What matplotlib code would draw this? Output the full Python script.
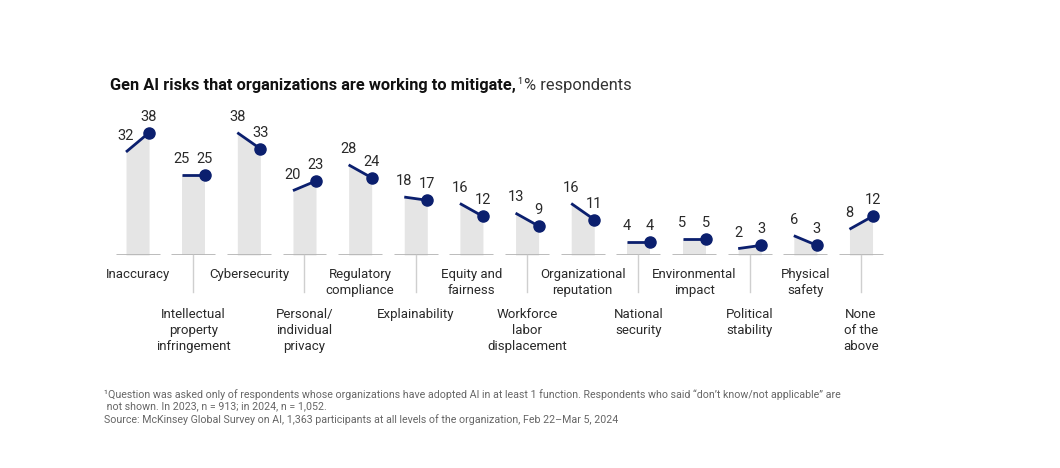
import matplotlib
matplotlib.use("Agg")
import matplotlib.pyplot as plt

# data
categories = ["Inaccuracy", "Intellectual\nproperty\ninfringement", "Cybersecurity",
              "Personal/\nindividual\nprivacy", "Regulatory\ncompliance", "Explainability",
              "Equity and\nfairness", "Workforce\nlabor\ndisplacement", "Organizational\nreputation",
              "National\nsecurity", "Environmental\nimpact", "Political\nstability",
              "Physical\nsafety", "None\nof the\nabove"]
values_2023 = [32, 25, 38, 20, 28, 18, 16, 13, 16, 4, 5, 2, 6, 8]
values_2024 = [38, 25, 33, 23, 24, 17, 12, 9, 11, 4, 5, 3, 3, 12]

NAVY = "#0b1f6e"
BAR = "#e5e5e5"
BASE = "#b5b5b5"
TICK = "#cfcfcf"
TXT = "#2a2a2a"
FONT = ["Roboto", "DejaVu Sans"]

plt.rcParams["font.family"] = FONT

W, H = 1060, 468
fig = plt.figure(figsize=(W / 100, H / 100), dpi=100)
ax = fig.add_axes([0.1035, 0.4551, 0.735, 0.2752])
ax.set_xlim(-0.5, len(categories) - 0.5)
ax.set_ylim(0, 40)
ax.axis("off")

hw = 0.207   # half bar width
bw = 0.395   # half baseline width
for i, (a, b) in enumerate(zip(values_2023, values_2024)):
    x0, x1 = i - hw, i + hw
    ax.fill_between([x0, x1], [a, b], 0, color=BAR, lw=0)
    ax.plot([i - bw, i + bw], [0, 0], color=BASE, lw=2, solid_capstyle="butt")
    ax.plot([x0, x1], [a, b], color=NAVY, lw=2, solid_capstyle="butt")
    ax.plot(x1, b, "o", color=NAVY, ms=8, mec=NAVY)
    ax.annotate(str(a), (x0, a), xytext=(0, 11.5), textcoords="offset points",
                ha="center", va="center", fontsize=10.5, color=TXT, annotation_clip=False)
    ax.annotate(str(b), (x1, b), xytext=(0, 11.5), textcoords="offset points",
                ha="center", va="center", fontsize=10.5, color=TXT, annotation_clip=False)
    if i % 2 == 0:
        ax.text(i, -4.0, categories[i], ha="center", va="top", fontsize=9.5,
                color=TXT, linespacing=1.28, clip_on=False)
    else:
        ax.plot([i, i], [0, -11.5], color=TICK, lw=1, clip_on=False)
        ax.text(i, -16.6, categories[i], ha="center", va="top", fontsize=9.5,
                color=TXT, linespacing=1.28, clip_on=False)

# title: bold part, superscript, regular part
base_y = 1 - 90 / H
t1 = fig.text(110 / W, base_y, "Gen AI risks that organizations are working to mitigate,",
              fontsize=11.8, fontweight="bold", color="#111111", va="baseline", ha="left")
fig.canvas.draw()
r = fig.canvas.get_renderer()
x_end = t1.get_window_extent(r).x1 / W
t2 = fig.text(x_end + 1 / W, base_y + 6 / H, "1", fontsize=6.5, color="#111111",
              va="baseline", ha="left")
fig.canvas.draw()
x_end = t2.get_window_extent(r).x1 / W
fig.text(x_end + 2 / W, base_y, "% respondents", fontsize=11.8, color="#333333",
         va="baseline", ha="left")

# footnotes
foot = ("\u00b9Question was asked only of respondents whose organizations have adopted AI in at least 1 function. "
        "Respondents who said \u201cdon\u2019t know/not applicable\u201d are\n"
        " not shown. In 2023, n = 913; in 2024, n = 1,052.\n"
        "Source: McKinsey Global Survey on AI, 1,363 participants at all levels of the organization, Feb 22\u2013Mar 5, 2024")
fig.text(104 / W, 1 - 389 / H, foot, fontsize=7.7, color="#666666", va="top", ha="left",
         linespacing=1.22)

fig.savefig("out.png", dpi=100, facecolor="white")
